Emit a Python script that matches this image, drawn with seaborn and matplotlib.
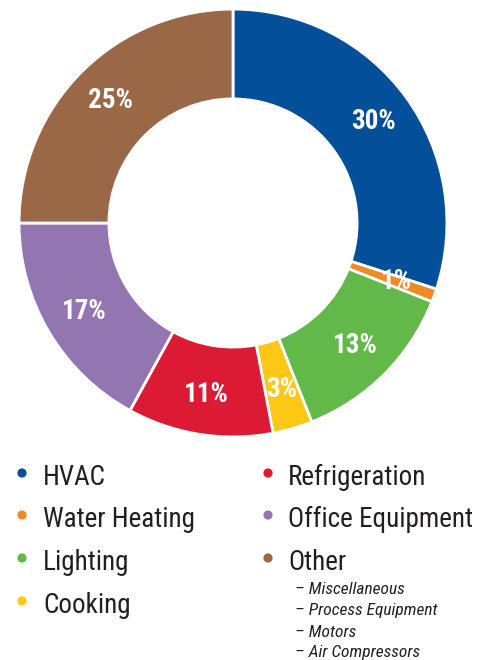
import matplotlib.pyplot as plt
import seaborn as sns

# end-use shares (%)
categories = ['HVAC', 'Water Heating', 'Lighting', 'Cooking',
              'Refrigeration', 'Office Equipment', 'Other']
shares = [30, 1, 13, 3, 11, 17, 25]
colors = ['#034f99', '#f08a24', '#62b94a', '#fdc815',
          '#dc1a34', '#9275b1', '#9a6847']
other_items = ['Miscellaneous', 'Process Equipment', 'Motors', 'Air Compressors']

sns.set_theme(style='white')
plt.rcParams['font.family'] = ['Roboto Condensed', 'DejaVu Sans']

W, H = 479, 660
fig = plt.figure(figsize=(W / 100, H / 100), dpi=100)

# donut
ax = fig.add_axes([18 / W, 1 - 438 / H, 430 / W, 430 / H])
palette = sns.color_palette(colors)
wedges, _, pct = ax.pie(shares, colors=palette, startangle=90, counterclock=False,
                        autopct='%d%%', pctdistance=0.81,
                        wedgeprops=dict(width=0.42, edgecolor='white', linewidth=2))
for t in pct:
    t.set_color('white')
    t.set_fontsize(19.5)
    t.set_fontweight('bold')
ax.set_xlim(-1.005, 1.005)
ax.set_ylim(-1.005, 1.005)
ax.set_aspect('equal')
ax.axis('off')

# legend in pixel coordinates
lg = fig.add_axes([0, 0, 1, 1])
lg.set_xlim(0, W)
lg.set_ylim(H, 0)
lg.axis('off')
lg.patch.set_alpha(0)

rows = [485, 527, 570, 613]
for i, (name, c) in enumerate(zip(categories, palette)):
    col, row = divmod(i, 4)
    x_dot = 22 if col == 0 else 268
    x_txt = 43 if col == 0 else 288
    y = rows[row]
    lg.scatter([x_dot], [y - 12], s=44, color=c, edgecolor='none')
    lg.text(x_txt, y, name, fontsize=19.5, color='#231f20', va='baseline', ha='left')

for y, item in zip([594, 615, 637, 657], other_items):
    lg.text(295, y, '\u2013 ' + item, fontsize=12.5, style='italic',
            color='#231f20', va='baseline', ha='left')

fig.savefig('out.png', dpi=100)
